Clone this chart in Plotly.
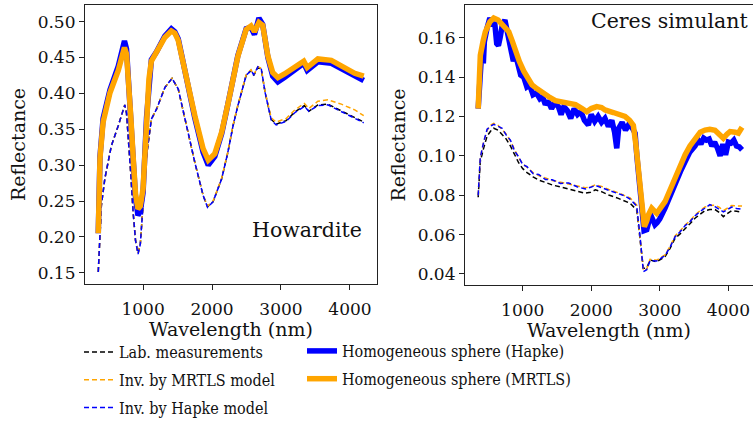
import plotly.graph_objects as go

# ---------------- Howardite ----------------
# spectral grid of the laboratory / inversion spectra (nm)
how_wl = [350, 395, 445, 540, 640, 700, 735, 760, 782, 820, 855, 890, 927, 960, 986,
          1050, 1120, 1195, 1315, 1420, 1510, 1605, 1750, 1870, 1935, 2015, 2140, 2230,
          2305, 2375, 2495, 2565, 2605, 2665, 2713, 2770, 2858, 2930, 3075, 3200, 3340,
          3405, 3535, 3680, 3875, 4070, 4200]
how_lab = [0.151, 0.244, 0.281, 0.327, 0.355, 0.372, 0.384, 0.372, 0.346, 0.290, 0.235,
           0.195, 0.177, 0.190, 0.226, 0.313, 0.364, 0.378, 0.408, 0.421, 0.406, 0.364,
           0.304, 0.258, 0.242, 0.249, 0.281, 0.318, 0.355, 0.383, 0.425, 0.432, 0.425,
           0.436, 0.434, 0.401, 0.364, 0.357, 0.362, 0.374, 0.383, 0.375, 0.384, 0.385,
           0.376, 0.367, 0.360]
how_inv_mrtls = [0.151, 0.244, 0.281, 0.327, 0.355, 0.372, 0.384, 0.372, 0.346, 0.290, 0.235,
                 0.195, 0.177, 0.190, 0.226, 0.313, 0.364, 0.378, 0.408, 0.421, 0.406, 0.364,
                 0.304, 0.258, 0.243, 0.250, 0.282, 0.319, 0.356, 0.384, 0.426, 0.433, 0.426,
                 0.437, 0.435, 0.402, 0.366, 0.360, 0.365, 0.377, 0.386, 0.379, 0.389, 0.391,
                 0.385, 0.377, 0.369]
how_inv_hapke = [0.151, 0.244, 0.281, 0.327, 0.355, 0.372, 0.384, 0.372, 0.346, 0.290, 0.235,
                 0.195, 0.176, 0.190, 0.226, 0.313, 0.364, 0.378, 0.408, 0.421, 0.406, 0.364,
                 0.304, 0.258, 0.241, 0.249, 0.281, 0.318, 0.355, 0.383, 0.425, 0.432, 0.426,
                 0.437, 0.435, 0.401, 0.363, 0.356, 0.361, 0.373, 0.382, 0.375, 0.383, 0.384,
                 0.375, 0.366, 0.359]

# spectral grid of the homogeneous-sphere spectra (nm)
how_sph_wl = [350, 375, 420, 520, 640, 700, 730, 760, 785, 820, 855, 890, 925, 960, 1000,
              1050, 1085, 1120, 1195, 1250, 1315, 1410, 1460, 1510, 1605, 1750, 1870, 1945,
              2040, 2140, 2230, 2305, 2375, 2495, 2565, 2615, 2680, 2735, 2810, 2880, 2955,
              3050, 3200, 3330, 3380, 3535, 3730, 3920, 4070, 4200]
how_sph_hapke = [0.205, 0.312, 0.365, 0.405, 0.438, 0.460, 0.473, 0.462, 0.428, 0.368, 0.310,
                 0.255, 0.230, 0.236, 0.262, 0.366, 0.420, 0.447, 0.458, 0.470, 0.480, 0.490,
                 0.486, 0.476, 0.430, 0.366, 0.318, 0.300, 0.312, 0.344, 0.385, 0.421, 0.453,
                 0.490, 0.492, 0.482, 0.505, 0.496, 0.450, 0.424, 0.416, 0.422, 0.432, 0.442,
                 0.432, 0.444, 0.442, 0.432, 0.423, 0.418]
how_sph_mrtls = [0.205, 0.310, 0.360, 0.401, 0.432, 0.452, 0.464, 0.455, 0.425, 0.370, 0.313,
                 0.260, 0.239, 0.243, 0.267, 0.369, 0.420, 0.445, 0.457, 0.468, 0.478, 0.487,
                 0.484, 0.474, 0.429, 0.369, 0.323, 0.307, 0.316, 0.346, 0.385, 0.420, 0.452,
                 0.489, 0.494, 0.486, 0.499, 0.495, 0.452, 0.429, 0.422, 0.427, 0.436, 0.445,
                 0.436, 0.448, 0.446, 0.437, 0.428, 0.424]

# ---------------- Ceres simulant ----------------
cer_wl = [350, 380, 430, 480, 530, 577, 640, 700, 760, 820, 880, 940, 1000, 1063, 1150,
          1233, 1330, 1430, 1550, 1670, 1800, 1913, 1990, 2060, 2150, 2255, 2395, 2500,
          2566, 2663, 2712, 2760, 2809, 2858, 2955, 3076, 3150, 3222, 3300, 3368, 3440,
          3514, 3590, 3660, 3730, 3806, 3870, 3927, 3990, 4049, 4120, 4200]
cer_lab = [0.079, 0.097, 0.104, 0.1100, 0.1125, 0.1140, 0.1130, 0.1110, 0.1085, 0.1050,
           0.1005, 0.0965, 0.0935, 0.0915, 0.0893, 0.0877, 0.0865, 0.0852, 0.0842, 0.0832,
           0.0822, 0.0810, 0.0815, 0.0827, 0.0818, 0.0801, 0.0784, 0.0770, 0.0759, 0.0725,
           0.0581, 0.0429, 0.0430, 0.0471, 0.0462, 0.0488, 0.0530, 0.0581, 0.0605, 0.0632,
           0.0655, 0.0683, 0.0705, 0.0722, 0.0727, 0.0727, 0.0712, 0.0691, 0.0708, 0.0722,
           0.0718, 0.0714]
cer_inv_mrtls = [0.080, 0.099, 0.107, 0.1130, 0.1155, 0.1165, 0.1155, 0.1135, 0.1110, 0.1075,
                 0.1030, 0.0990, 0.0960, 0.0940, 0.0915, 0.0900, 0.0888, 0.0875, 0.0866, 0.0858,
                 0.0849, 0.0838, 0.0842, 0.0853, 0.0845, 0.0829, 0.0812, 0.0798, 0.0786, 0.0750,
                 0.0595, 0.0418, 0.0425, 0.0475, 0.0470, 0.0497, 0.0540, 0.0593, 0.0620, 0.0648,
                 0.0670, 0.0700, 0.0722, 0.0740, 0.0748, 0.0750, 0.0738, 0.0722, 0.0735, 0.0748,
                 0.0746, 0.0745]
cer_inv_hapke = [0.080, 0.099, 0.107, 0.1135, 0.1150, 0.1160, 0.1150, 0.1140, 0.1105, 0.1080,
                 0.1025, 0.0995, 0.0955, 0.0945, 0.0910, 0.0905, 0.0880, 0.0878, 0.0860, 0.0862,
                 0.0842, 0.0832, 0.0840, 0.0850, 0.0838, 0.0825, 0.0805, 0.0795, 0.0780, 0.0745,
                 0.0590, 0.0412, 0.0422, 0.0468, 0.0466, 0.0494, 0.0536, 0.0588, 0.0616, 0.0645,
                 0.0666, 0.0695, 0.0718, 0.0735, 0.0752, 0.0742, 0.0728, 0.0715, 0.0728, 0.0740,
                 0.0733, 0.0728]

cer_sph_mrtls_wl = [350, 381, 420, 454, 520, 577, 640, 698, 750, 796, 850, 892, 950, 1015,
                    1075, 1136, 1210, 1282, 1380, 1476, 1570, 1671, 1770, 1865, 1934, 2000,
                    2080, 2150, 2201, 2322, 2420, 2493, 2560, 2614, 2650, 2687, 2736, 2774,
                    2810, 2833, 2882, 2955, 3076, 3150, 3222, 3300, 3368, 3440, 3514, 3590,
                    3660, 3730, 3806, 3870, 3927, 3980, 4025, 4100, 4146, 4200]
cer_sph_mrtls = [0.124, 0.151, 0.158, 0.163, 0.168, 0.170, 0.169, 0.167, 0.165, 0.163, 0.158,
                 0.153, 0.148, 0.143, 0.139, 0.136, 0.134, 0.132, 0.130, 0.128, 0.1275, 0.127,
                 0.126, 0.124, 0.1224, 0.124, 0.125, 0.1245, 0.1233, 0.122, 0.121, 0.120, 0.118,
                 0.1155, 0.106, 0.092, 0.0716, 0.064, 0.067, 0.070, 0.0734, 0.0708, 0.0767,
                 0.083, 0.0886, 0.095, 0.1004, 0.105, 0.1089, 0.112, 0.1131, 0.1135, 0.113,
                 0.111, 0.1089, 0.111, 0.1123, 0.112, 0.1115, 0.1145]

cer_sph_hapke_wl = [350, 380, 400, 425, 440, 480, 520, 560, 590, 620, 645, 670, 700, 740, 770,
                    800, 830, 863, 890, 930, 970, 1015, 1060, 1100, 1150, 1200, 1250, 1290,
                    1330, 1370, 1420, 1470, 1520, 1560, 1600, 1650, 1700, 1750, 1800, 1850,
                    1900, 1957, 2000, 2050, 2100, 2150, 2200, 2250, 2300, 2340, 2372, 2400,
                    2450, 2500, 2550, 2600, 2640, 2665, 2700, 2736, 2770, 2810, 2850, 2880,
                    2930, 2960, 3000, 3076, 3150, 3222, 3300, 3368, 3440, 3514, 3560, 3600,
                    3640, 3680, 3720, 3760, 3800, 3840, 3880, 3920, 3960, 4000, 4040, 4080,
                    4120, 4160, 4200]
cer_sph_hapke = [0.124, 0.140, 0.152, 0.147, 0.158, 0.165, 0.170, 0.166, 0.168, 0.157, 0.156,
                 0.160, 0.166, 0.169, 0.164, 0.158, 0.156, 0.148, 0.152, 0.147, 0.141, 0.140,
                 0.135, 0.136, 0.131, 0.132, 0.129, 0.130, 0.126, 0.128, 0.124, 0.127, 0.125,
                 0.121, 0.125, 0.123, 0.119, 0.124, 0.121, 0.1225, 0.118, 0.1157, 0.121, 0.1175,
                 0.120, 0.117, 0.119, 0.115, 0.118, 0.112, 0.1038, 0.114, 0.117, 0.113, 0.116,
                 0.114, 0.1115, 0.100, 0.085, 0.068, 0.062, 0.0625, 0.068, 0.069, 0.065, 0.066,
                 0.068, 0.0735, 0.080, 0.0855, 0.092, 0.097, 0.102, 0.105, 0.108, 0.106, 0.109,
                 0.108, 0.1085, 0.105, 0.107, 0.104, 0.100, 0.106, 0.1005, 0.107, 0.1065, 0.108,
                 0.105, 0.1045, 0.103]

BLUE = "#0000ff"
ORANGE = "#ffa500"
BLACK = "#000000"
FONT = "DejaVu Serif"
LEGEND_FONT = "DejaVu Serif Condensed, DejaVu Serif"

fig = go.Figure()


def add_panel(xa, ya, wl, lab, inv_m, inv_h, sph_h_wl, sph_h, sph_m_wl, sph_m, show):
    dash = "5px,3px"
    fig.add_trace(go.Scatter(x=wl, y=lab, mode="lines", name="Lab. measurements",
                             line=dict(color=BLACK, width=1.5, dash=dash),
                             xaxis=xa, yaxis=ya, legend="legend", legendgroup="lab",
                             showlegend=show))
    fig.add_trace(go.Scatter(x=wl, y=inv_m, mode="lines", name="Inv. by MRTLS model",
                             line=dict(color=ORANGE, width=1.5, dash=dash),
                             xaxis=xa, yaxis=ya, legend="legend", legendgroup="invm",
                             showlegend=show))
    fig.add_trace(go.Scatter(x=wl, y=inv_h, mode="lines", name="Inv. by Hapke model",
                             line=dict(color=BLUE, width=1.5, dash=dash),
                             xaxis=xa, yaxis=ya, legend="legend", legendgroup="invh",
                             showlegend=show))
    fig.add_trace(go.Scatter(x=sph_h_wl, y=sph_h, mode="lines",
                             name="Homogeneous sphere (Hapke)",
                             line=dict(color=BLUE, width=5.5),
                             xaxis=xa, yaxis=ya, legend="legend2", legendgroup="sphh",
                             showlegend=show))
    fig.add_trace(go.Scatter(x=sph_m_wl, y=sph_m, mode="lines",
                             name="Homogeneous sphere (MRTLS)",
                             line=dict(color=ORANGE, width=5.5),
                             xaxis=xa, yaxis=ya, legend="legend2", legendgroup="sphm",
                             showlegend=show))


add_panel("x", "y", how_wl, how_lab, how_inv_mrtls, how_inv_hapke,
          how_sph_wl, how_sph_hapke, how_sph_wl, how_sph_mrtls, True)
add_panel("x2", "y2", cer_wl, cer_lab, cer_inv_mrtls, cer_inv_hapke,
          cer_sph_hapke_wl, cer_sph_hapke, cer_sph_mrtls_wl, cer_sph_mrtls, False)

W, H = 753, 425
axis_common = dict(showgrid=False, zeroline=False, showline=True, linecolor="#222222",
                   linewidth=1.2, ticks="outside", ticklen=5, tickcolor="#222222",
                   tickfont=dict(family=FONT, size=17, color="#111111"))
title_font = dict(family=FONT, size=19, color="#111111")

fig.update_layout(
    width=W, height=H,
    margin=dict(l=0, r=0, t=0, b=0),
    paper_bgcolor="white", plot_bgcolor="white",
    xaxis=dict(domain=[85 / W, 377 / W], range=[157.5, 4392.5], mirror=True,
               tickvals=[1000, 2000, 3000, 4000], ticklabelstandoff=4,
               title=dict(text="Wavelength (nm)", font=title_font, standoff=2),
               **axis_common),
    yaxis=dict(domain=[1 - 284 / H, 1 - 5 / H], range=[0.1343, 0.5232], mirror=True,
               tickvals=[0.15, 0.20, 0.25, 0.30, 0.35, 0.40, 0.45, 0.50], tickformat=".2f",
               title=dict(text="Reflectance", font=title_font, standoff=6),
               **axis_common),
    xaxis2=dict(domain=[465 / W, 1.0], range=[157.5, 4360], mirror=True, anchor="y2",
                tickvals=[1000, 2000, 3000, 4000], ticklabelstandoff=4,
                title=dict(text="Wavelength (nm)", font=title_font, standoff=2),
                **axis_common),
    yaxis2=dict(domain=[1 - 285 / H, 1 - 5 / H], range=[0.0344, 0.1766], anchor="x2",
                tickvals=[0.04, 0.06, 0.08, 0.10, 0.12, 0.14, 0.16], tickformat=".2f",
                title=dict(text="Reflectance", font=title_font, standoff=6),
                **axis_common),
    # legends are anchored on the bottom edge so they never push the margins
    legend=dict(x=79 / W, y=0, xanchor="left", yanchor="bottom",
                font=dict(family=LEGEND_FONT, size=16, color="#111111"),
                bgcolor="rgba(0,0,0,0)", tracegroupgap=4, traceorder="grouped"),
    legend2=dict(x=302 / W, y=1 - 396 / H, xanchor="left", yanchor="bottom",
                 font=dict(family=LEGEND_FONT, size=16, color="#111111"),
                 bgcolor="rgba(0,0,0,0)", tracegroupgap=4, traceorder="grouped"),
    annotations=[
        dict(text="Howardite", x=364 / W, y=1 - 230 / H, xref="paper", yref="paper",
             xanchor="right", yanchor="middle", showarrow=False,
             font=dict(family=FONT, size=20.5, color="#111111")),
        dict(text="Ceres simulant", x=750 / W, y=1 - 21 / H, xref="paper", yref="paper",
             xanchor="right", yanchor="middle", showarrow=False,
             font=dict(family=FONT, size=20.5, color="#111111")),
    ],
)

fig.write_html("out.html")
